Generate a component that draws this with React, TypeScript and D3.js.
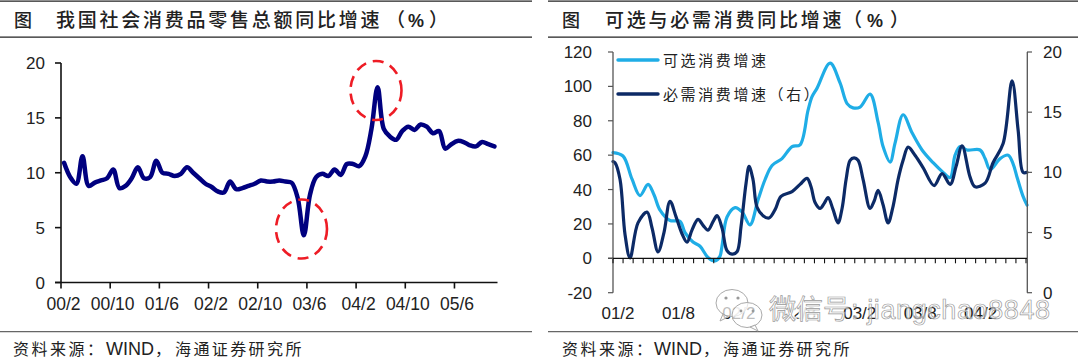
import React from 'react';
import * as d3 from 'd3';

const retailValues = [10.9,9.6,9.0,11.5,8.8,9.1,9.3,9.5,10.3,8.6,8.8,9.5,10.5,9.5,9.6,11.1,10.0,9.9,9.7,9.9,10.5,10.0,9.5,9.0,8.7,8.3,8.2,9.2,8.5,8.6,8.8,9.0,9.3,9.2,9.2,9.3,9.2,9.1,7.7,4.3,8.0,9.6,9.9,9.7,10.3,9.8,10.8,10.8,10.6,11.5,14.0,17.8,14.0,13.3,13.0,13.8,14.2,13.9,14.4,14.2,13.6,13.8,12.2,12.6,12.9,12.8,12.5,12.4,12.8,12.6,12.4];
const retailTickIdx = [0,8,16,24,32,40,48,56,64];
const retailTickLabels = ['00/2','00/10','01/6','02/2','02/10','03/6','04/2','04/10','05/6'];
const retailYTicks = [0,5,10,15,20];

const optMonths = [0,0.99,1.89,2.68,3.48,4.07,4.67,5.66,6.65,7.15,7.94,8.64,9.43,10.13,10.6,10.82,11.32,12.12,12.81,13.6,14.4,15.09,15.79,16.78,17.78,18.57,19.36,19.76,20.26,21.55,22.54,23.24,23.83,24.53,25.52,26.32,26.81,27.51,28,28.8,29.69,30.68,31.78,32.77,33.47,33.96,34.46,35.15,36.44,36.94,37.44,38.43,39.23,39.72,40.12,40.71,41.1];
const optValues = [61.5,59.5,46,36.5,43,37,28,22,21.5,15,9.5,7,0.5,-1.5,1,7,24,29.5,27,19.5,34,45.7,54,58,65,66,86,94,99,113.5,102,90,87.5,88,95.5,79,65,56,67,83.5,73,63,55.6,50,47,60,65,63,63,58,51.6,58,60,55,47,36,31];

const needMonths = [0,0.2,0.7,1.2,1.69,2.48,3.38,3.87,4.47,5.06,5.66,6.26,6.85,7.35,7.84,8.44,8.94,9.43,9.93,10.33,10.82,11.32,11.82,12.31,12.71,13.21,13.51,13.9,14.3,14.9,15.49,16.09,16.68,17.78,18.57,19.26,19.66,20.06,20.56,20.95,21.35,21.85,22.34,22.74,23.14,23.54,23.93,24.33,24.83,25.52,25.92,26.32,26.81,27.31,27.81,28.3,28.8,29.3,30.0,30.78,31.88,32.67,33.47,34.06,34.66,35.45,35.95,36.94,37.73,38.73,39.62,40.22,40.71,41.1];
const needValues = [10.9,10.8,9.4,4.8,2.9,5.8,6.7,5.4,3.4,5.0,7.6,6.3,4.9,4.2,5.2,6.1,5.6,5.2,5.9,6.4,5.4,3.5,3.2,3.4,5.5,9.1,10.5,9.4,7.1,6.4,6.2,6.9,8.0,8.4,9.0,9.5,8.8,7.5,7.0,7.4,7.9,6.9,5.8,7.0,9.4,11.0,11.2,11.0,9.4,7.0,7.6,8.5,7.3,5.8,7.2,9.4,11.0,12.1,11.4,10.4,8.9,9.9,9.0,10.5,12.2,9.6,8.8,9.1,10.8,12.4,17.6,13.5,10,10];

const optTickLabels = ['01/2','01/8','02/2','02/8','03/2','03/8','04/2'];
const optLabelMonths = [0,6,12,18,24,30,36];
const monthTicks = d3.range(0, 42);
const leftTicks = [-20,0,20,40,60,80,100,120];
const rightTicks = [0,5,10,15,20];

const CJK = '"Noto Sans CJK SC", sans-serif';
const LAT = '"Liberation Sans", Arial, sans-serif';
const NAVY = '#00007f';
const DARK = '#0c2a66';
const LIGHT = '#1fade6';
const RED = '#ee1c25';
const TXT = '#222';

function Frame({x1, x2, marker, title, titleX, openX, pctX, closeX, footX, windX, haiX}: any) {
  return (
    <g>
      <line x1={x1} x2={x2} y1={1.2} y2={1.2} stroke="#222" strokeWidth={1.3} />
      <line x1={x1} x2={x2} y1={37.2} y2={37.2} stroke="#222" strokeWidth={1.3} />
      <line x1={x1} x2={x2} y1={331.7} y2={331.7} stroke="#666" strokeWidth={1.3} />
      <text x={marker} y={27} fontFamily={CJK} fontSize={18} fontWeight={500} fill={TXT}>图</text>
      <text x={titleX} y={27} fontFamily={CJK} fontSize={19} fontWeight={500} letterSpacing={2.75} fill={TXT}>{title}</text>
      <text x={openX} y={27} fontFamily={CJK} fontSize={19} fontWeight={500} fill={TXT}>（</text>
      <text x={pctX} y={27} fontFamily={LAT} fontSize={18} fontWeight={700} fill={TXT}>%</text>
      <text x={closeX} y={27} fontFamily={CJK} fontSize={19} fontWeight={500} fill={TXT}>）</text>
      <text x={footX} y={355} fontFamily={CJK} fontSize={16} letterSpacing={2.5} fill={TXT}>资料来源：</text>
      <text x={windX} y={355} fontFamily={LAT} fontSize={18} fill={TXT}>WIND</text>
      <text x={windX + 49} y={355} fontFamily={CJK} fontSize={16} fill={TXT}>，</text>
      <text x={haiX} y={355} fontFamily={CJK} fontSize={16} letterSpacing={2.4} fill={TXT}>海通证券研究所</text>
    </g>
  );
}

function RetailChart() {
  const x = d3.scaleLinear().domain([0, 71]).range([61, 497.5]);
  const y = d3.scaleLinear().domain([0, 20]).range([282.5, 63]);
  const path = d3.line<number>().x((_, i) => x(i + 0.5)).y(v => y(v)).curve(d3.curveCatmullRom.alpha(0.5));
  return (
    <g>
      <path d={path(retailValues) || ''} fill="none" stroke={NAVY} strokeWidth={4.5} strokeLinejoin="round" strokeLinecap="round" />
      <line x1={61} x2={61} y1={y(20)} y2={y(0)} stroke="#111" strokeWidth={1.6} />
      <line x1={55} x2={497.5} y1={y(0)} y2={y(0)} stroke="#111" strokeWidth={1.6} />
      {retailYTicks.map(t => (
        <g key={t}>
          <line x1={55} x2={61} y1={y(t)} y2={y(t)} stroke="#111" strokeWidth={1.6} />
          <text x={45} y={y(t) + 6} textAnchor="end" fontFamily={LAT} fontSize={17} fill={TXT}>{t}</text>
        </g>
      ))}
      {retailTickIdx.map((m, i) => (
        <g key={m}>
          <line x1={x(m)} x2={x(m)} y1={y(0)} y2={y(0) + 6} stroke="#111" strokeWidth={1.6} />
          <text x={x(m) + 2.5} y={310} textAnchor="middle" fontFamily={LAT} fontSize={17.5} fill={TXT}>{retailTickLabels[i]}</text>
        </g>
      ))}
      <ellipse cx={376} cy={90.5} rx={25.5} ry={29.5} fill="none" stroke={RED} strokeWidth={2.6} strokeDasharray="11 7" />
      <ellipse cx={301.5} cy={229} rx={25.5} ry={29.5} fill="none" stroke={RED} strokeWidth={2.6} strokeDasharray="11 7" />
    </g>
  );
}

function ConsumptionChart() {
  const x = d3.scaleLinear().domain([0, 41.1]).range([613, 1027]);
  const yL = d3.scaleLinear().domain([-20, 120]).range([292.7, 52]);
  const yR = d3.scaleLinear().domain([0, 20]).range([292.7, 52]);
  const lineL = d3.line<number>().x((_, i) => x(optMonths[i])).y(v => yL(v)).curve(d3.curveCatmullRom.alpha(0.5));
  const lineR = d3.line<number>().x((_, i) => x(needMonths[i])).y(v => yR(v)).curve(d3.curveCatmullRom.alpha(0.5));
  return (
    <g>
      <path d={lineL(optValues) || ''} fill="none" stroke={LIGHT} strokeWidth={3.2} strokeLinejoin="round" strokeLinecap="round" />
      <path d={lineR(needValues) || ''} fill="none" stroke={DARK} strokeWidth={3.2} strokeLinejoin="round" strokeLinecap="round" />
      <line x1={613} x2={613} y1={yL(120)} y2={yL(-20)} stroke="#555" strokeWidth={1.3} />
      <line x1={1027.3} x2={1027.3} y1={yR(20)} y2={yR(0)} stroke="#555" strokeWidth={1.3} />
      <line x1={608} x2={1027} y1={yL(0)} y2={yL(0)} stroke="#111" strokeWidth={1.2} />
      {monthTicks.map(m => (
        <line key={m} x1={x(m)} x2={x(m)} y1={yL(0)} y2={yL(0) + 5} stroke="#111" strokeWidth={1.1} />
      ))}
      {leftTicks.map(t => (
        <g key={t}>
          <line x1={608} x2={613} y1={yL(t)} y2={yL(t)} stroke="#555" strokeWidth={1.2} />
          <text x={592} y={yL(t) + 6} textAnchor="end" fontFamily={LAT} fontSize={17} fill={TXT}>{t}</text>
        </g>
      ))}
      {rightTicks.map(t => (
        <g key={t}>
          <line x1={1027} x2={1032} y1={yR(t)} y2={yR(t)} stroke="#555" strokeWidth={1.2} />
          <text x={1043} y={yR(t) + 6} fontFamily={LAT} fontSize={17} fill={TXT}>{t}</text>
        </g>
      ))}
      {optLabelMonths.map((m, i) => (
        <text key={m} x={x(m) + 5} y={319} textAnchor="middle" fontFamily={LAT} fontSize={17} fill={TXT}>{optTickLabels[i]}</text>
      ))}
      <line x1={618} x2={658} y1={60} y2={60} stroke={LIGHT} strokeWidth={3.4} strokeLinecap="round" />
      <text x={663} y={66} fontFamily={CJK} fontSize={15} letterSpacing={2.6} fill={TXT}>可选消费增速</text>
      <line x1={618} x2={658} y1={94} y2={94} stroke={DARK} strokeWidth={3.4} strokeLinecap="round" />
      <text x={663} y={100} fontFamily={CJK} fontSize={15} letterSpacing={2.6} fill={TXT}>必需消费增速（右）</text>
    </g>
  );
}

function Watermark() {
  return (
    <g>
      <g fill="#fff" fillOpacity={0.7} stroke="#aaa" strokeWidth={1}>
        <ellipse cx={732} cy={303} rx={16} ry={13.5} />
        <path d="M723 314 l-3 7 l8 -4 Z" />
        <ellipse cx={747} cy={315} rx={15} ry={12.5} />
        <path d="M755 325 l3 6 l-8 -4 Z" />
      </g>
      <g fill="#999">
        <circle cx={726} cy={298} r={1.6} /><circle cx={738} cy={298} r={1.6} />
        <circle cx={741} cy={311} r={1.4} /><circle cx={753} cy={311} r={1.4} />
      </g>
      <text x={769} y={319} fontFamily={CJK} fontSize={27} fill="#fff" stroke="#fff" strokeWidth={4} strokeOpacity={0.85}>微信</text>
      <text x={769} y={319} fontFamily={CJK} fontSize={27} fill="#fff" fillOpacity={0.5} stroke="#9a9a9a" strokeWidth={0.7}>微信号</text>
      <text x={851} y={319} fontFamily={LAT} fontSize={27} letterSpacing={0.6} fill="#fff" fillOpacity={0.5} stroke="#9a9a9a" strokeWidth={0.7}>: jiangchao8848</text>
    </g>
  );
}

export default function App() {
  return (
    <svg width={1080} height={359} viewBox="0 0 1080 359" style={{position: 'absolute', left: 0, top: 0, background: '#fff', display: 'block'}}>
      <Frame x1={0} x2={532} marker={14} title="我国社会消费品零售总额同比增速" titleX={56} openX={386} pctX={408} closeX={429} footX={13} windX={106} haiX={175} />
      <Frame x1={548} x2={1078} marker={562} title="可选与必需消费同比增速" titleX={605} openX={843} pctX={867} closeX={890} footX={562} windX={654} haiX={723} />
      <RetailChart />
      <ConsumptionChart />
      <Watermark />
    </svg>
  );
}
